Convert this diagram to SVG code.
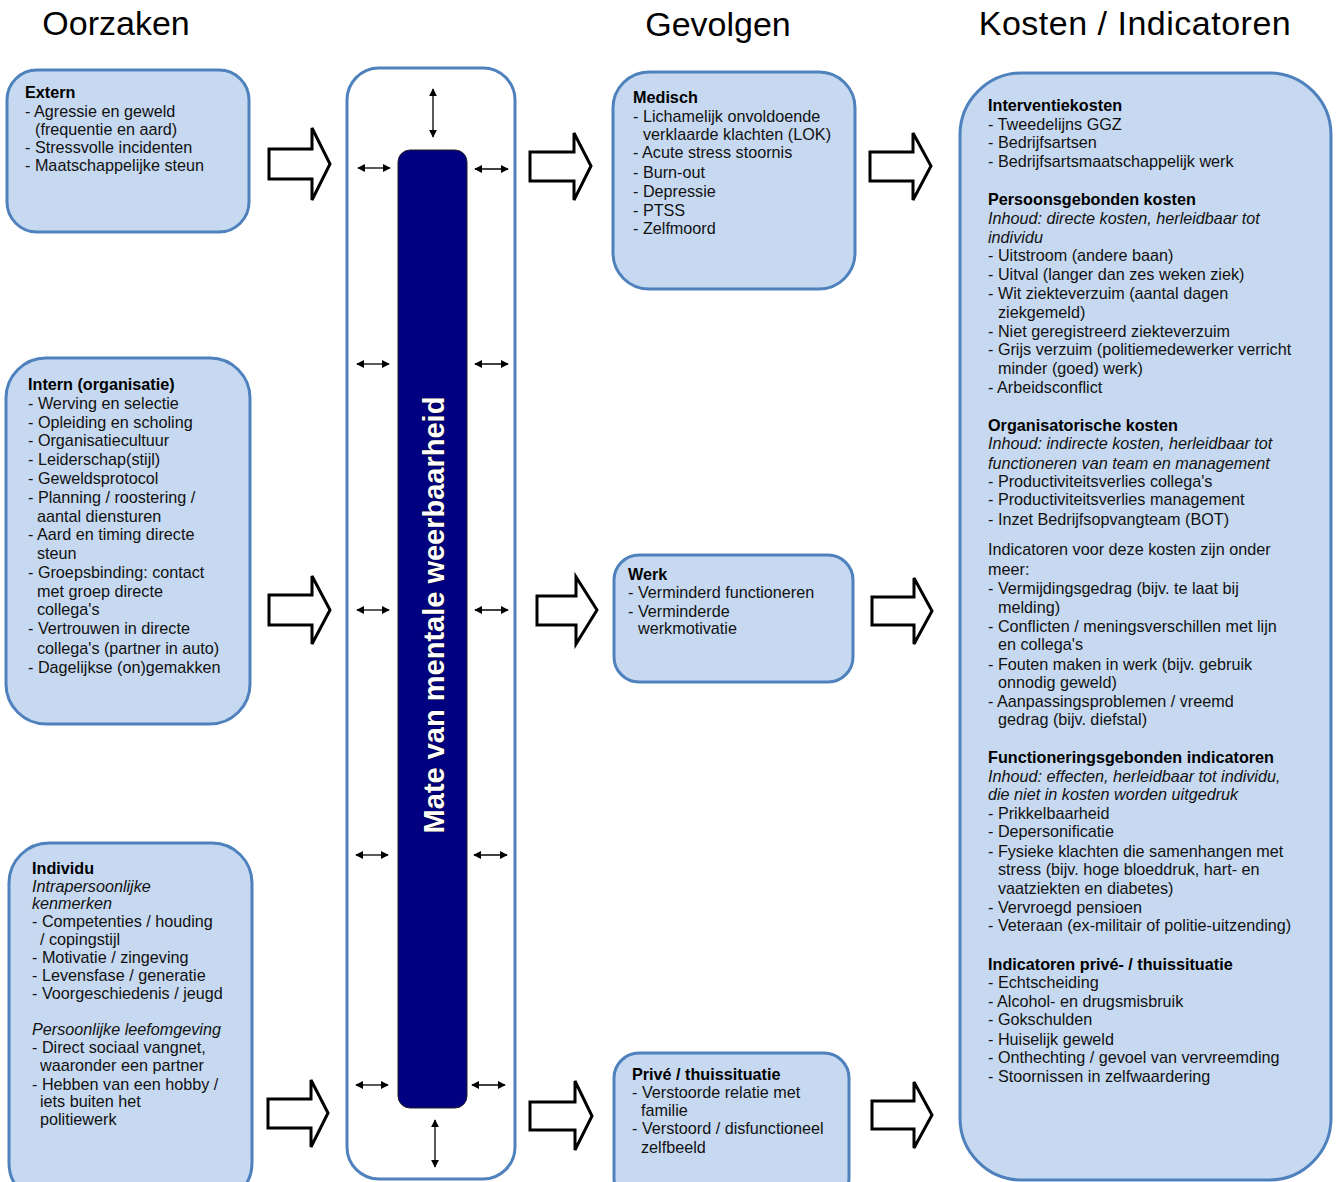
<svg xmlns="http://www.w3.org/2000/svg" width="1337" height="1182" viewBox="0 0 1337 1182">
<style>
.title{font-family:"Liberation Sans",Arial,sans-serif;font-size:34px;fill:#000}
.box{fill:#c6d9f1;stroke:#4f81bd;stroke-width:3}
.t{font-family:"Liberation Sans",Arial,sans-serif;font-size:16.2px;fill:#111}
.b{font-weight:bold;fill:#000}
.i{font-style:italic}
.blk{fill:#fff;stroke:#000;stroke-width:3;stroke-linejoin:miter}
.dbl{stroke:#000;stroke-width:1.3;fill:none;marker-start:url(#ah);marker-end:url(#ah)}
</style>
<defs>
<marker id="ah" viewBox="0 0 10 10" refX="9" refY="5" markerWidth="8" markerHeight="8" markerUnits="userSpaceOnUse" orient="auto-start-reverse">
<path d="M0,0 L10,5 L0,10 Z" fill="#000"/>
</marker>
</defs>
<rect width="1337" height="1182" fill="#fff"/>

<g id="titles">
<text class="title" x="116" y="35" text-anchor="middle">Oorzaken</text>
<text class="title" x="718" y="36" text-anchor="middle">Gevolgen</text>
<text class="title" x="1135" y="35" text-anchor="middle" letter-spacing="0.5">Kosten / Indicatoren</text>
</g>

<g id="extern">
<rect class="box" x="7" y="70" width="242" height="162" rx="30"/>
<text class="t"><tspan class="b" x="25" y="98">Extern</tspan><tspan x="25" y="117">- Agressie en geweld</tspan><tspan x="35" y="135">(frequentie en aard)</tspan><tspan x="25" y="153">- Stressvolle incidenten</tspan><tspan x="25" y="171">- Maatschappelijke steun</tspan></text>
</g>

<g id="intern">
<rect class="box" x="6" y="358" width="244" height="366" rx="40"/>
<text class="t"><tspan class="b" x="28" y="390">Intern (organisatie)</tspan><tspan x="28" y="409">- Werving en selectie</tspan><tspan x="28" y="428">- Opleiding en scholing</tspan><tspan x="28" y="446">- Organisatiecultuur</tspan><tspan x="28" y="465">- Leiderschap(stijl)</tspan><tspan x="28" y="484">- Geweldsprotocol</tspan><tspan x="28" y="503">- Planning / roostering /</tspan><tspan x="37" y="522">aantal diensturen</tspan><tspan x="28" y="540">- Aard en timing directe</tspan><tspan x="37" y="559">steun</tspan><tspan x="28" y="578">- Groepsbinding: contact</tspan><tspan x="37" y="597">met groep directe</tspan><tspan x="37" y="615">collega's</tspan><tspan x="28" y="634">- Vertrouwen in directe</tspan><tspan x="37" y="654">collega's (partner in auto)</tspan><tspan x="28" y="673">- Dagelijkse (on)gemakken</tspan></text>
</g>

<g id="individu">
<rect class="box" x="9" y="843" width="243" height="360" rx="40"/>
<text class="t"><tspan class="b" x="32" y="874">Individu</tspan><tspan class="i" x="32" y="892">Intrapersoonlijke</tspan><tspan class="i" x="32" y="909">kenmerken</tspan><tspan x="32" y="927">- Competenties / houding</tspan><tspan x="40" y="945">/ copingstijl</tspan><tspan x="32" y="963">- Motivatie / zingeving</tspan><tspan x="32" y="981">- Levensfase / generatie</tspan><tspan x="32" y="999">- Voorgeschiedenis / jeugd</tspan><tspan class="i" x="32" y="1035">Persoonlijke leefomgeving</tspan><tspan x="32" y="1053">- Direct sociaal vangnet,</tspan><tspan x="40" y="1071">waaronder een partner</tspan><tspan x="32" y="1090">- Hebben van een hobby /</tspan><tspan x="40" y="1107">iets buiten het</tspan><tspan x="40" y="1125">politiewerk</tspan></text>
</g>

<g id="weerbaarheid">
<rect x="347" y="68" width="168" height="1111" rx="32" fill="#fff" stroke="#4f81bd" stroke-width="3"/>
<rect x="398" y="150" width="69" height="958" rx="12" fill="#000080" stroke="#222" stroke-width="1"/>
<text transform="translate(444,615) rotate(-90)" text-anchor="middle" font-family="'Liberation Sans',Arial,sans-serif" font-size="29" font-weight="bold" fill="#fff" stroke="#000" stroke-width="0.8" paint-order="stroke">Mate van mentale weerbaarheid</text>
</g>

<g id="medisch">
<rect class="box" x="613" y="72" width="242" height="217" rx="36"/>
<text class="t"><tspan class="b" x="633" y="103">Medisch</tspan><tspan x="633" y="122">- Lichamelijk onvoldoende</tspan><tspan x="643" y="140">verklaarde klachten (LOK)</tspan><tspan x="633" y="158">- Acute stress stoornis</tspan><tspan x="633" y="178">- Burn-out</tspan><tspan x="633" y="197">- Depressie</tspan><tspan x="633" y="216">- PTSS</tspan><tspan x="633" y="234">- Zelfmoord</tspan></text>
</g>

<g id="werk">
<rect class="box" x="614" y="555" width="239" height="127" rx="25"/>
<text class="t"><tspan class="b" x="628" y="580">Werk</tspan><tspan x="628" y="598">- Verminderd functioneren</tspan><tspan x="628" y="617">- Verminderde</tspan><tspan x="638" y="634">werkmotivatie</tspan></text>
</g>

<g id="prive">
<rect class="box" x="614" y="1053" width="235" height="150" rx="25"/>
<text class="t"><tspan class="b" x="632" y="1080">Privé / thuissituatie</tspan><tspan x="632" y="1098">- Verstoorde relatie met</tspan><tspan x="641" y="1116">familie</tspan><tspan x="632" y="1134">- Verstoord / disfunctioneel</tspan><tspan x="641" y="1153">zelfbeeld</tspan></text>
</g>

<g id="kosten">
<rect class="box" x="960" y="73" width="371" height="1107" rx="62"/>
<text class="t"><tspan class="b" x="988" y="111">Interventiekosten</tspan><tspan x="988" y="130">- Tweedelijns GGZ</tspan><tspan x="988" y="148">- Bedrijfsartsen</tspan><tspan x="988" y="167">- Bedrijfsartsmaatschappelijk werk</tspan><tspan class="b" x="988" y="205">Persoonsgebonden  kosten</tspan><tspan class="i" x="988" y="224">Inhoud: directe kosten, herleidbaar tot</tspan><tspan class="i" x="988" y="243">individu</tspan><tspan x="988" y="261">- Uitstroom (andere baan)</tspan><tspan x="988" y="280">- Uitval (langer dan zes weken ziek)</tspan><tspan x="988" y="299">- Wit ziekteverzuim (aantal dagen</tspan><tspan x="998" y="318">ziekgemeld)</tspan><tspan x="988" y="337">- Niet geregistreerd ziekteverzuim</tspan><tspan x="988" y="355">- Grijs verzuim (politiemedewerker verricht</tspan><tspan x="998" y="374">minder (goed) werk)</tspan><tspan x="988" y="393">- Arbeidsconflict</tspan><tspan class="b" x="988" y="431">Organisatorische  kosten</tspan><tspan class="i" x="988" y="449">Inhoud: indirecte kosten, herleidbaar tot</tspan><tspan class="i" x="988" y="469">functioneren van team en management</tspan><tspan x="988" y="487">- Productiviteitsverlies collega's</tspan><tspan x="988" y="505">- Productiviteitsverlies management</tspan><tspan x="988" y="525">- Inzet Bedrijfsopvangteam (BOT)</tspan><tspan x="988" y="555">Indicatoren voor deze kosten zijn onder</tspan><tspan x="988" y="575">meer:</tspan><tspan x="988" y="594">- Vermijdingsgedrag (bijv. te laat bij</tspan><tspan x="998" y="613">melding)</tspan><tspan x="988" y="632">- Conflicten / meningsverschillen met lijn</tspan><tspan x="998" y="650">en collega's</tspan><tspan x="988" y="670">- Fouten maken in werk (bijv. gebruik</tspan><tspan x="998" y="688">onnodig geweld)</tspan><tspan x="988" y="707">- Aanpassingsproblemen / vreemd</tspan><tspan x="998" y="725">gedrag (bijv. diefstal)</tspan><tspan class="b" x="988" y="763">Functioneringsgebonden  indicatoren</tspan><tspan class="i" x="988" y="782">Inhoud: effecten, herleidbaar tot individu,</tspan><tspan class="i" x="988" y="800">die niet in kosten worden uitgedruk</tspan><tspan x="988" y="819">- Prikkelbaarheid</tspan><tspan x="988" y="837">- Depersonificatie</tspan><tspan x="988" y="857">- Fysieke klachten die samenhangen met</tspan><tspan x="998" y="875">stress (bijv. hoge bloeddruk, hart- en</tspan><tspan x="998" y="894">vaatziekten en diabetes)</tspan><tspan x="988" y="913">- Vervroegd pensioen</tspan><tspan x="988" y="931">- Veteraan (ex-militair of politie-uitzending)</tspan><tspan class="b" x="988" y="970">Indicatoren privé- / thuissituatie</tspan><tspan x="988" y="988">- Echtscheiding</tspan><tspan x="988" y="1007">- Alcohol- en drugsmisbruik</tspan><tspan x="988" y="1025">- Gokschulden</tspan><tspan x="988" y="1045">- Huiselijk geweld</tspan><tspan x="988" y="1063">- Onthechting / gevoel van vervreemding</tspan><tspan x="988" y="1082">- Stoornissen in zelfwaardering</tspan></text>
</g>

<g id="connectors">
<path class="blk" d="M269,149 L312,149 L312,128 L330,164 L312,200 L312,179 L269,179 Z"/>
<path class="blk" d="M269,595 L312,595 L312,576 L330,610 L312,644 L312,625 L269,625 Z"/>
<path class="blk" d="M268,1099 L311,1099 L311,1080 L328,1113 L311,1147 L311,1128 L268,1128 Z"/>
<path class="blk" d="M530,152 L574,152 L574,133 L591,166 L574,200 L574,181 L530,181 Z"/>
<path class="blk" d="M537,596 L576,596 L576,577 L597,610 L576,644 L576,625 L537,625 Z"/>
<path class="blk" d="M530,1102 L575,1102 L575,1081 L592,1116 L575,1150 L575,1130 L530,1130 Z"/>
<path class="blk" d="M870,152 L913,152 L913,133 L931,166 L913,200 L913,181 L870,181 Z"/>
<path class="blk" d="M872,597 L914,597 L914,578 L932,611 L914,644 L914,625 L872,625 Z"/>
<path class="blk" d="M872,1101 L914,1101 L914,1082 L932,1115 L914,1148 L914,1129 L872,1129 Z"/>
<line class="dbl" x1="433" y1="89" x2="433" y2="137"/>
<line class="dbl" x1="435" y1="1120" x2="435" y2="1167"/>
<line class="dbl" x1="358" y1="168" x2="390" y2="168"/>
<line class="dbl" x1="475" y1="169" x2="508" y2="169"/>
<line class="dbl" x1="357" y1="364" x2="389" y2="364"/>
<line class="dbl" x1="475" y1="364" x2="508" y2="364"/>
<line class="dbl" x1="357" y1="610" x2="389" y2="610"/>
<line class="dbl" x1="475" y1="610" x2="508" y2="610"/>
<line class="dbl" x1="356" y1="855" x2="388" y2="855"/>
<line class="dbl" x1="474" y1="855" x2="507" y2="855"/>
<line class="dbl" x1="356" y1="1085" x2="388" y2="1085"/>
<line class="dbl" x1="472" y1="1085" x2="505" y2="1085"/>
</g>
</svg>
